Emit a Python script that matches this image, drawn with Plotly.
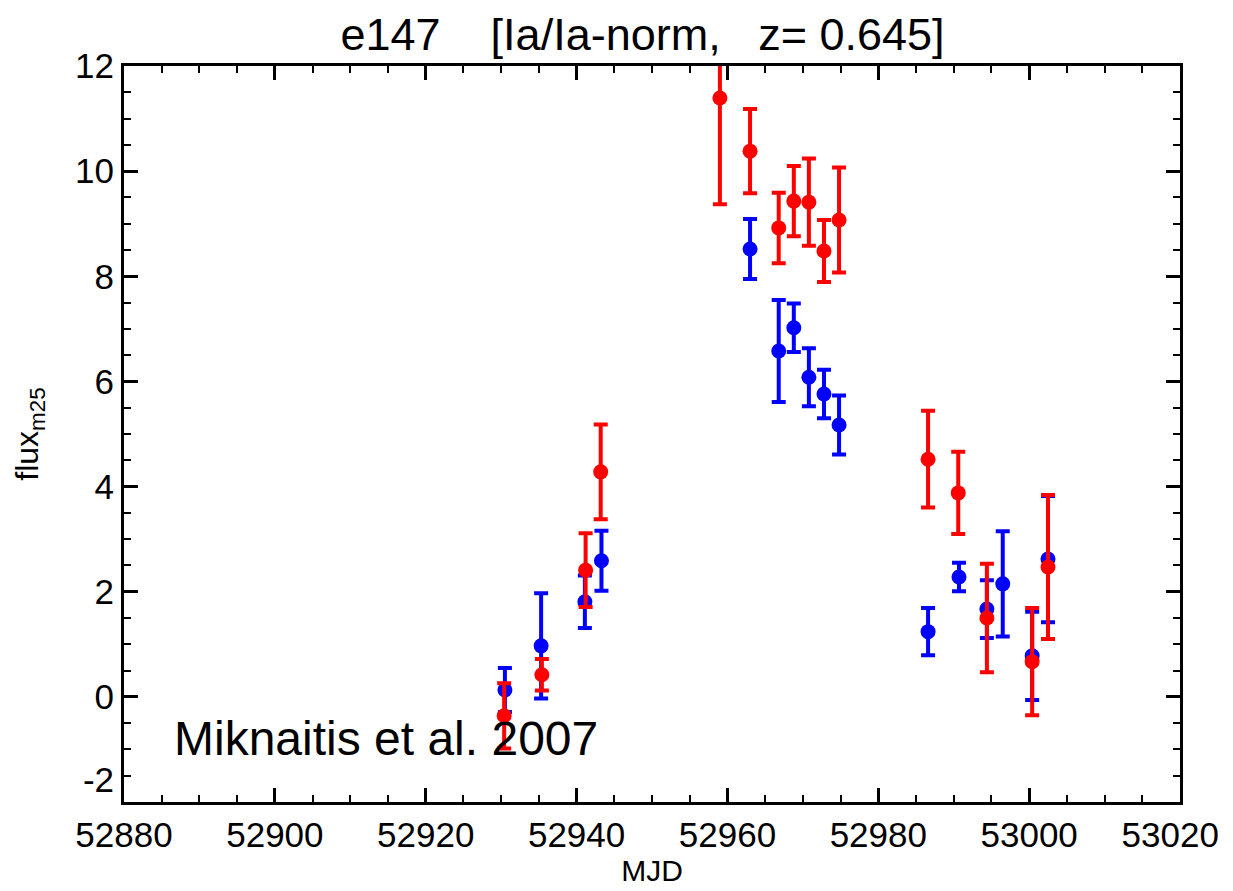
import plotly.graph_objects as go

# Blue band
blue_mjd = [52930.5, 52935.3, 52941.1, 52943.3, 52963.0, 52966.8, 52968.8, 52970.8,
            52972.8, 52974.8, 52986.6, 52990.7, 52994.4, 52996.5, 53000.4, 53002.5]
blue_flux = [0.13, 0.97, 1.81, 2.59, 8.52, 6.58, 7.02, 6.08,
             5.76, 5.17, 1.24, 2.28, 1.67, 2.15, 0.78, 2.62]
blue_err = [0.42, 1.00, 0.50, 0.57, 0.57, 0.97, 0.46, 0.55,
            0.46, 0.56, 0.45, 0.27, 0.55, 1.00, 0.84, 1.20]

# Red band
red_mjd = [52930.4, 52935.4, 52941.2, 52943.2, 52959.0, 52963.0, 52966.8, 52968.8,
           52970.8, 52972.8, 52974.8, 52986.6, 52990.6, 52994.4, 53000.4, 53002.5]
red_flux = [-0.36, 0.42, 2.41, 4.28, 11.39, 10.38, 8.92, 9.43,
            9.41, 8.48, 9.07, 4.52, 3.88, 1.50, 0.67, 2.47]
red_err = [0.62, 0.30, 0.70, 0.90, 2.02, 0.80, 0.67, 0.67,
           0.83, 0.59, 1.00, 0.92, 0.78, 1.03, 1.02, 1.37]

x_ticks = [52880, 52900, 52920, 52940, 52960, 52980, 53000, 53020]
x_ticklabels = ["52880", "52900", "52920", "52940", "52960", "52980", "53000",
                "53020\u00a0\u00a0"]
y_ticks = [-2, 0, 2, 4, 6, 8, 10, 12]
y_ticklabels = ["-2<br>\u00a0", "0", "2", "4", "6", "8", "10", "12"]

title_text = ("e147" + "\u00a0" * 4 + "[Ia/Ia-norm," + "\u00a0" * 3 + "z=\u00a00.645]")
credit_text = "Miknaitis et al. 2007"
FONT = "Liberation Sans, Arial"

fig = go.Figure()
for xs, ys, es, col in [(blue_mjd, blue_flux, blue_err, "#0000ff"),
                        (red_mjd, red_flux, red_err, "#ff0000")]:
    fig.add_trace(go.Scatter(
        x=xs, y=ys, mode="markers",
        marker=dict(color=col, size=15, line=dict(width=0)),
        error_y=dict(type="data", array=es, visible=True, color=col,
                     thickness=4, width=7),
        showlegend=False, cliponaxis=True,
    ))

fig.add_annotation(x=52886.3, y=-0.8, xref="x", yref="y", text=credit_text,
                   showarrow=False, xanchor="left", yanchor="middle",
                   font=dict(family=FONT, size=48, color="black"))

axis_common = dict(
    showline=True, linewidth=3, linecolor="black", mirror="ticks",
    ticks="inside", ticklen=14, tickwidth=2.5, tickcolor="black",
    showgrid=False, zeroline=False, automargin=False,
    ticklabeloverflow="allow",
    tickfont=dict(family=FONT, size=35, color="black"),
)

fig.update_xaxes(range=[52880, 53020], tickvals=x_ticks, ticktext=x_ticklabels,
                 minor=dict(dtick=5, tick0=52880, ticklen=7, tickwidth=2,
                            tickcolor="black", ticks="inside"),
                 title=dict(text="MJD", font=dict(family=FONT, size=30, color="black"),
                            standoff=7),
                 **axis_common)
fig.update_yaxes(range=[-2, 12], tickvals=y_ticks, ticktext=y_ticklabels,
                 minor=dict(dtick=0.5, tick0=0, ticklen=7, tickwidth=2,
                            tickcolor="black", ticks="inside"),
                 title=dict(text="flux<sub>m25</sub>", font=dict(family=FONT, size=32, color="black"),
                            standoff=27),
                 **axis_common)

fig.update_layout(
    width=1225, height=883,
    margin=dict(l=116, r=53, t=58, b=89),
    paper_bgcolor="white", plot_bgcolor="white",
    title=dict(text=title_text, x=0.518, xanchor="center", y=0.9706, yanchor="middle",
               font=dict(family=FONT, size=45, color="black")),
)

fig.write_html("out.html")
